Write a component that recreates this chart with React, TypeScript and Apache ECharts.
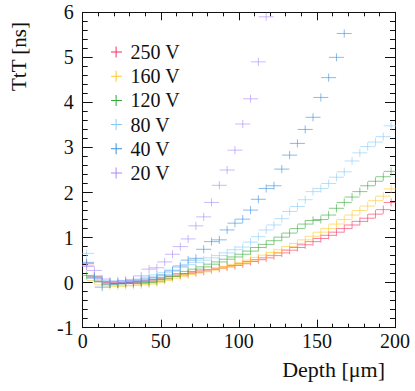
import React, { useEffect, useRef } from "react";
import * as echarts from "echarts";

const depths: number[] = [
  2.5, 7.5, 12.5, 17.5, 22.5, 27.5, 32.5, 37.5, 42.5, 47.5,
  52.5, 57.5, 62.5, 67.5, 72.5, 77.5, 82.5, 87.5, 92.5, 97.5,
  102.5, 107.5, 112.5, 117.5, 122.5, 127.5, 132.5, 137.5, 142.5, 147.5,
  152.5, 157.5, 162.5, 167.5, 172.5, 177.5, 182.5, 187.5, 192.5, 197.5,
];

const ttt250: (number | null)[] = [
  0.42, 0.14, 0.02, 0.0, -0.02, 0.0, 0.01, 0.02, 0.04, 0.07,
  0.1, 0.14, 0.17, 0.2, 0.23, 0.26, 0.29, 0.32, 0.35, 0.38,
  0.42, 0.47, 0.51, 0.55, 0.6, 0.66, 0.72, 0.78, 0.84, 0.91,
  0.98, 1.05, 1.12, 1.2, 1.28, 1.36, 1.43, 1.52, 1.62, 1.78,
];
const ttt160: (number | null)[] = [
  0.38, 0.05, -0.05, -0.07, -0.08, -0.07, -0.06, -0.05, -0.03, 0.0,
  0.05, 0.1, 0.14, 0.18, 0.21, 0.24, 0.28, 0.32, 0.36, 0.4,
  0.45, 0.5, 0.56, 0.61, 0.67, 0.73, 0.8, 0.87, 0.95, 1.03,
  1.12, 1.2, 1.3, 1.4, 1.5, 1.6, 1.7, 1.82, 1.92, 2.08,
];
const ttt120: (number | null)[] = [
  0.16, 0.12, 0.02, -0.03, -0.03, -0.02, -0.02, -0.01, 0.0, 0.03,
  0.08, 0.14, 0.2, 0.25, 0.3, 0.35, 0.41, 0.46, 0.52, 0.57,
  0.63, 0.7, 0.78, 0.85, 0.93, 1.01, 1.1, 1.2, 1.3, 1.38,
  1.4, 1.5, 1.65, 1.78, 1.9, 2.02, 2.15, 2.25, 2.35, 2.47,
];
const ttt80: (number | null)[] = [
  0.65, 0.15, 0.05, 0.03, 0.04, 0.05, 0.06, 0.08, 0.12, 0.17,
  0.22, 0.28, 0.34, 0.4, 0.45, 0.5, 0.55, 0.6, 0.66, 0.73,
  0.79, 0.9, 1.02, 1.17, 1.28, 1.42, 1.58, 1.69, 1.84, 2.02,
  2.09, 2.2, 2.34, 2.46, 2.7, 2.88, 3.02, 3.12, 3.24, 3.48,
];
const ttt40: (number | null)[] = [
  0.45, 0.1, -0.1, -0.03, -0.02, 0.0, 0.02, 0.04, 0.08, 0.12,
  0.17, 0.26, 0.37, 0.5, 0.54, 0.74, 0.91, 0.95, 1.17, 1.32,
  1.41, 1.61, 1.85, 2.09, 2.15, 2.52, 2.83, 3.09, 3.4, 3.67,
  4.11, 4.55, 5.0, 5.53, null, null, null, null, null, null,
];
const ttt20: (number | null)[] = [
  0.36, 0.27, 0.08, 0.02, 0.02, 0.04, 0.06, 0.15, 0.3, 0.33,
  0.46, 0.63, 0.8, 0.97, 1.26, 1.46, 1.78, 2.16, 2.5, 2.94,
  3.52, 4.08, 4.9, 5.9, null, null, null, null, null, null,
  null, null, null, null, null, null, null, null, null, null,
];

const seriesNames: string[] = ["250 V", "160 V", "120 V", "80 V", "40 V", "20 V"];
const seriesValues = [ttt250, ttt160, ttt120, ttt80, ttt40, ttt20];
const seriesColors: string[] = ["#f7305f", "#ffc82a", "#35a83a", "#86cbf8", "#3a8ee0", "#a98af8"];

const xTicks = { min: 0, max: 200, interval: 50 };
const yTicks = { min: -1, max: 6, interval: 1 };

const DX = 4.8; // half bin width [µm]
const DY = 0.09; // vertical error [ns]

const FONT = "'Liberation Serif', serif";

export default function App() {
  const ref = useRef<HTMLDivElement>(null);
  useEffect(() => {
    if (!ref.current) return;
    const chart = echarts.init(ref.current, undefined, { renderer: "svg" });
    const series = seriesNames.map((name, i) => {
      const color = seriesColors[i];
      const data: number[][] = [];
      depths.forEach((d, k) => {
        const v = seriesValues[i][k];
        if (v !== null && v !== undefined) data.push([d, v]);
      });
      return {
        type: "custom",
        name,
        xAxisIndex: 0,
        yAxisIndex: 0,
        itemStyle: { color },
        clip: true,
        data,
        renderItem: (params: any, api: any) => {
          const x = api.value(0);
          const y = api.value(1);
          const l = api.coord([x - DX, y]);
          const r = api.coord([x + DX, y]);
          const t = api.coord([x, y + DY]);
          const b = api.coord([x, y - DY]);
          return {
            type: "group",
            children: [
              {
                type: "line",
                shape: { x1: l[0], y1: l[1], x2: r[0], y2: r[1] },
                style: { stroke: color, lineWidth: 1, opacity: 0.6 },
              },
              {
                type: "line",
                shape: { x1: t[0], y1: t[1], x2: b[0], y2: b[1] },
                style: { stroke: color, lineWidth: 1, opacity: 0.6 },
              },
            ],
          };
        },
      };
    });

    const axisLine = { show: true, onZero: false, lineStyle: { color: "#111", width: 1 } };
    const option: any = {
      animation: false,
      backgroundColor: "#fff",
      grid: { left: 82.7, right: 20, top: 12.3, bottom: 63.3, containLabel: false },
      legend: {
        left: 106,
        top: 37,
        orient: "vertical",
        itemWidth: 18,
        itemHeight: 11,
        itemGap: 4.2,
        symbolKeepAspect: true,
        icon: "path://M4.6,0h1v11h-1z M0,5h11v1h-11z",
        data: seriesNames,
        textStyle: {
          fontFamily: FONT,
          fontSize: 20,
          color: "#111",
          lineHeight: 20,
        },
      },
      xAxis: [
        {
          type: "value",
          min: xTicks.min,
          max: xTicks.max,
          interval: xTicks.interval,
          position: "bottom",
          axisLine,
          axisTick: { show: true, inside: true, length: 8, lineStyle: { color: "#111" } },
          minorTick: { show: true, splitNumber: 5, length: 4, lineStyle: { color: "#111" } },
          splitLine: { show: false },
          axisLabel: { fontFamily: FONT, fontSize: 20, color: "#111", margin: 3 },
        },
        {
          type: "value",
          min: xTicks.min,
          max: xTicks.max,
          interval: xTicks.interval,
          position: "top",
          axisLine,
          axisTick: { show: true, inside: true, length: 8, lineStyle: { color: "#111" } },
          minorTick: { show: true, splitNumber: 5, length: 4, lineStyle: { color: "#111" } },
          splitLine: { show: false },
          axisLabel: { show: false },
        },
      ],
      yAxis: [
        {
          type: "value",
          min: yTicks.min,
          max: yTicks.max,
          interval: yTicks.interval,
          position: "left",
          axisLine,
          axisTick: { show: true, inside: true, length: 10, lineStyle: { color: "#111" } },
          minorTick: { show: true, splitNumber: 5, length: 5, lineStyle: { color: "#111" } },
          splitLine: { show: false },
          axisLabel: { fontFamily: FONT, fontSize: 20, color: "#111", margin: 9 },
        },
        {
          type: "value",
          min: yTicks.min,
          max: yTicks.max,
          interval: yTicks.interval,
          position: "right",
          axisLine,
          axisTick: { show: true, inside: true, length: 10, lineStyle: { color: "#111" } },
          minorTick: { show: true, splitNumber: 5, length: 5, lineStyle: { color: "#111" } },
          splitLine: { show: false },
          axisLabel: { show: false },
        },
      ],
      graphic: [
        {
          type: "text",
          x: 385,
          y: 369,
          style: {
            text: "Depth [μm]",
            fontFamily: FONT,
            fontSize: 22,
            fill: "#111",
            align: "right",
            verticalAlign: "middle",
          },
        },
        {
          type: "text",
          x: 19,
          y: 22,
          rotation: Math.PI / 2,
          style: {
            text: "TtT [ns]",
            fontFamily: FONT,
            fontSize: 21,
            fill: "#111",
            align: "right",
            verticalAlign: "middle",
          },
        },
      ],
      series,
    };
    chart.setOption(option);
    return () => chart.dispose();
  }, []);
  return (
    <div
      ref={ref}
      style={{ position: "fixed", left: 0, top: 0, width: 415, height: 391, background: "#fff" }}
    />
  );
}
